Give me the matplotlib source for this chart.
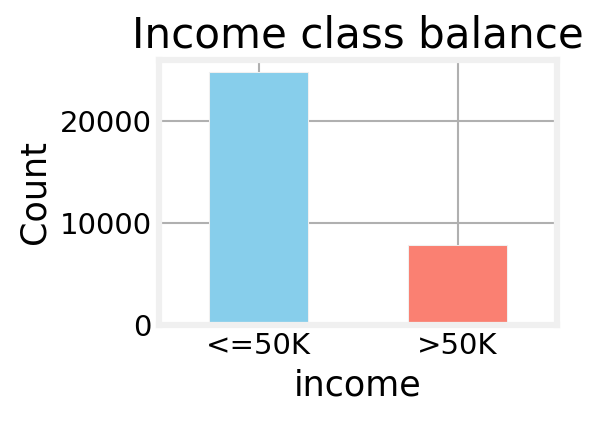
import matplotlib
matplotlib.use("Agg")
import matplotlib.pyplot as plt

categories = ["<=50K", ">50K"]
counts = [24720, 7841]
bar_colors = ["skyblue", "salmon"]

plt.rcParams["font.family"] = "DejaVu Sans"
plt.rcParams["font.size"] = 14

fig = plt.figure(figsize=(4, 421 / 150), dpi=150, facecolor="white")
ax = fig.add_axes([159 / 600, 1 - 325 / 421, 398 / 600, (325 - 59.7) / 421])
ax.set_facecolor("white")
ax.set_axisbelow(True)

x = range(len(categories))
ax.bar(x, counts, width=0.5, color=bar_colors, edgecolor="#f0f0f0", linewidth=0.5)
ax.set_xlim(-0.5, len(categories) - 0.5)
ax.set_ylim(0, max(counts) * 1.05)
ax.set_xticks(list(x))
ax.set_xticklabels(categories, rotation=0)
ax.set_yticks([0, 10000, 20000])

ax.grid(True, color="#b0b0b0", linewidth=1.0)
for s in ax.spines.values():
    s.set_color("#f0f0f0")
    s.set_linewidth(3.0)
ax.tick_params(length=0, labelsize=14, pad=3.5)

ax.set_title("Income class balance", fontsize=20.16)
ax.set_xlabel("income", fontsize=16.8)
ax.set_ylabel("Count", fontsize=16.8)

fig.savefig("out.png", dpi=150, facecolor="white")
